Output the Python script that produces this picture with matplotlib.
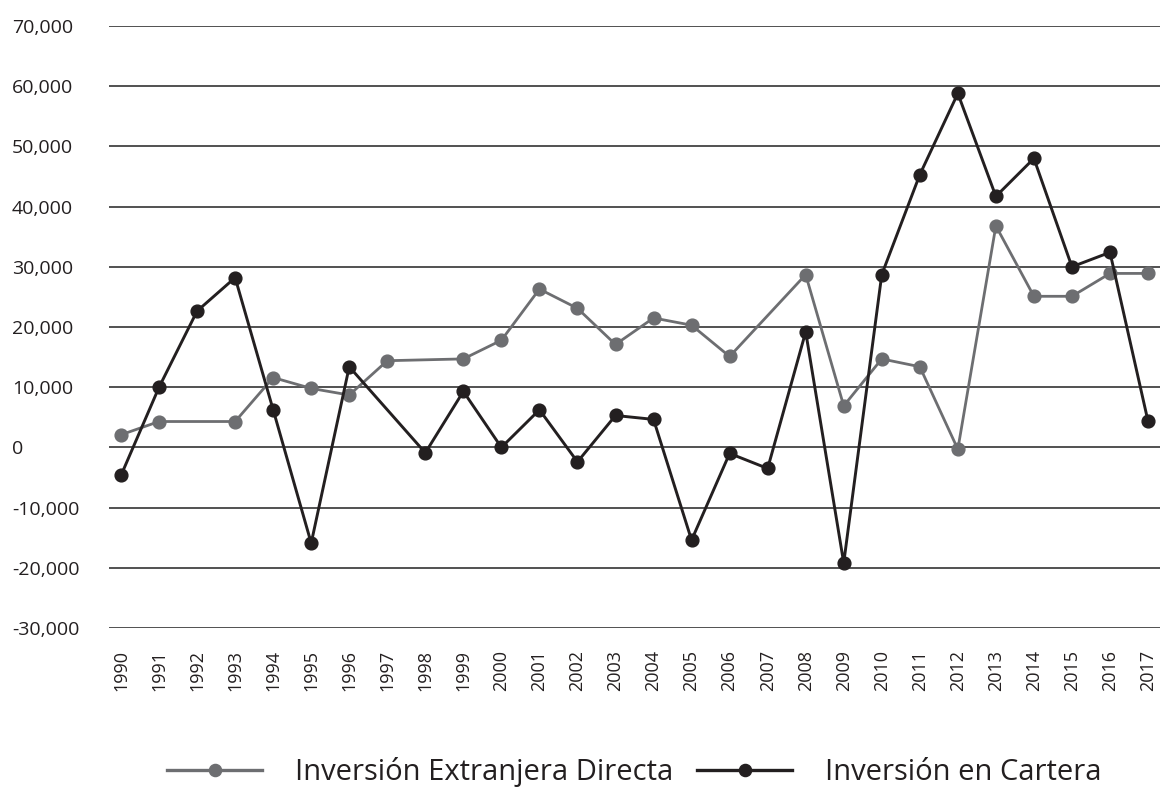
import matplotlib
matplotlib.use("Agg")
import matplotlib.pyplot as plt
from matplotlib.ticker import FuncFormatter, MultipleLocator

plt.rcParams['font.family'] = ['Open Sans', 'DejaVu Sans']

# ---- data ----
years_ied = [1990, 1991, 1993, 1994, 1995, 1996, 1997, 1999, 2000, 2001, 2002,
             2003, 2004, 2005, 2006, 2008, 2009, 2010, 2011, 2012, 2013, 2014,
             2015, 2016, 2017]
ied = [2100, 4300, 4300, 11600, 9800, 8700, 14400, 14700, 17800, 26300, 23100,
       17100, 21500, 20300, 15100, 28700, 6900, 14700, 13400, -300, 36800, 25100,
       25100, 28900, 28900]

years_cartera = [1990, 1991, 1992, 1993, 1994, 1995, 1996, 1998, 1999, 2000,
                 2001, 2002, 2003, 2004, 2005, 2006, 2007, 2008, 2009, 2010,
                 2011, 2012, 2013, 2014, 2015, 2016, 2017]
cartera = [-4650, 10000, 22650, 28200, 6250, -15900, 13400, -900, 9300, 0,
           6250, -2400, 5300, 4650, -15400, -1000, -3500, 19200, -19200, 28700,
           45300, 58800, 41700, 48000, 30000, 32400, 4350]

tick_years = list(range(1990, 2018))
label_ied = "Inversión Extranjera Directa"
label_cartera = "Inversión en Cartera"

# ---- styling ----
GRAY = '#6d6e71'
BLACK = '#231f20'
TEXT = '#231f20'

W, H = 1160, 787
fig = plt.figure(figsize=(W / 100, H / 100), dpi=100)
ax = fig.add_axes([109 / W, 1 - 628 / H, (W - 109) / W, (628 - 26) / H])

ax.plot(years_ied, ied, color=GRAY, linewidth=2.0, marker='o', markersize=9.2,
        markerfacecolor=GRAY, markeredgecolor=GRAY, label=label_ied, zorder=3)
ax.plot(years_cartera, cartera, color=BLACK, linewidth=2.1, marker='o',
        markersize=9.2, markerfacecolor=BLACK, markeredgecolor=BLACK,
        label=label_cartera, zorder=4)

ax.set_ylim(-30000, 70000)
ax.set_xlim(1989.684, 2017.315)
ax.yaxis.set_major_locator(MultipleLocator(10000))
ax.yaxis.set_major_formatter(FuncFormatter(lambda v, p: f"{int(v):,}"))
ax.set_xticks(tick_years)
ax.set_xticklabels([str(y) for y in tick_years], rotation=90)

ax.yaxis.grid(True, color='#333333', linewidth=1.2, zorder=1)
ax.xaxis.grid(False)
ax.set_axisbelow(True)
for s in ax.spines.values():
    s.set_visible(False)

ax.tick_params(axis='y', length=0, pad=97 * 0.72, labelsize=14, labelcolor=TEXT)
for lab in ax.get_yticklabels():
    lab.set_horizontalalignment('left')
ax.tick_params(axis='x', length=0, pad=16, labelsize=13, labelcolor=TEXT)

leg = ax.legend(loc='center', bbox_to_anchor=(0.5, -0.24), ncol=2,
                frameon=False, fontsize=21, handlelength=3.26,
                handletextpad=1.13, columnspacing=0.82, markerscale=0.95)
for t in leg.get_texts():
    t.set_color(TEXT)
for ln in leg.get_lines():
    ln.set_linewidth(2.4)

fig.savefig('out.png', dpi=100)
